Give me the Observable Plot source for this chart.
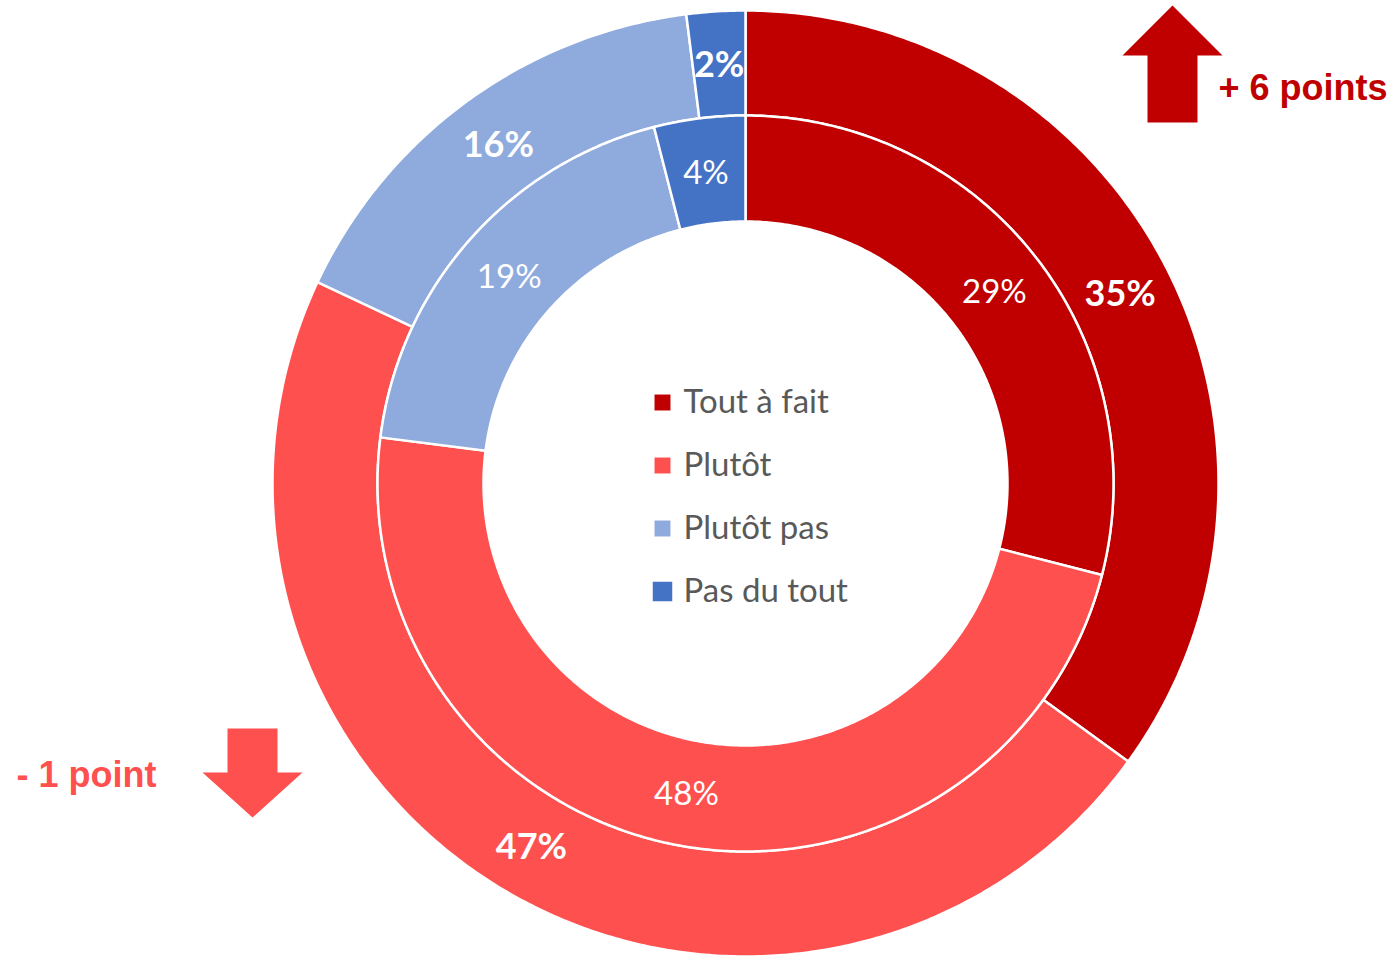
<!DOCTYPE html>
<html>
<head>
<meta charset="utf-8">
<script src="https://cdn.jsdelivr.net/npm/d3@7"></script>
<script src="https://cdn.jsdelivr.net/npm/@observablehq/plot@0.6"></script>
<style>
  html, body { margin: 0; padding: 0; background: #fff; }
  #chart { width: 1397px; height: 956px; }
</style>
</head>
<body>
<div id="chart"></div>
<script>
// ---- data ----
const categories = ["Tout à fait", "Plutôt", "Plutôt pas", "Pas du tout"];
const colors = ["#C00000", "#FF5050", "#8FAADC", "#4472C4"];
const outerValues = [35, 47, 16, 2];   // outer ring (current)
const innerValues = [29, 48, 19, 4];   // inner ring (previous)

// ---- geometry (layout) ----
const W = 1397, H = 956;
const CX = 745, CY = 483;
const rings = [
  {key: "outer", values: outerValues, r0: 368, r1: 473},
  {key: "inner", values: innerValues, r0: 262, r1: 368}
];
const rad = a => a * Math.PI / 180;
const pt = (r, a) => ({x: r * Math.sin(rad(a)), y: r * Math.cos(rad(a))});

const slicePts = [];
const labels = {outer: [], inner: []};
for (const ring of rings) {
  const total = d3.sum(ring.values);
  let cum = 0;
  ring.values.forEach((v, i) => {
    const a0 = cum / total * 360, a1 = (cum + v) / total * 360;
    cum += v;
    const id = ring.key + i;
    const n = Math.max(2, Math.ceil((a1 - a0) / 0.5) + 1);
    for (let k = 0; k < n; k++) {
      const a = a0 + (a1 - a0) * k / (n - 1);
      slicePts.push({id, color: colors[i], ...pt(ring.r1, a)});
    }
    for (let k = n - 1; k >= 0; k--) {
      const a = a0 + (a1 - a0) * k / (n - 1);
      slicePts.push({id, color: colors[i], ...pt(ring.r0, a)});
    }
    const m = pt((ring.r0 + ring.r1) / 2, (a0 + a1) / 2);
    labels[ring.key].push({...m, text: `${v}%`});
  });
}

// legend rows (in the hole)
const legend = categories.map((c, i) => ({
  label: c, color: colors[i], x: -83, tx: -62, y: 81 - i * 63, r: i === 3 ? 11 : 9
}));

// change arrows derived from the data
const arrowSpecs = [
  {i: 0, cx: 427, tail: 361, base: 428, tip: 478, tx: 473, ty: 395},
  {i: 1, cx: -493, tail: -245, base: -289, tip: -334, tx: -729, ty: -292}
];
const arrowPts = [];
const arrowText = [];
for (const s of arrowSpecs) {
  const delta = outerValues[s.i] - innerValues[s.i];
  const id = "arrow" + s.i, color = colors[s.i];
  const shape = [
    [s.cx - 25, s.tail], [s.cx - 25, s.base], [s.cx - 50, s.base], [s.cx, s.tip],
    [s.cx + 50, s.base], [s.cx + 25, s.base], [s.cx + 25, s.tail]
  ];
  for (const [x, y] of shape) arrowPts.push({id, color, x, y});
  const abs = Math.abs(delta);
  arrowText.push({x: s.tx, y: s.ty, color,
    text: `${delta >= 0 ? "+" : "-"} ${abs} point${abs > 1 ? "s" : ""}`});
}

const plot = Plot.plot({
  width: W, height: H,
  margin: 0,
  x: {domain: [-CX, W - CX], axis: null},
  y: {domain: [-(H - CY), CY], axis: null},
  r: {type: "identity"},
  color: {type: "identity"},
  style: {fontFamily: "Lato, 'Open Sans', sans-serif", background: "white"},
  marks: [
    Plot.line(slicePts, {x: "x", y: "y", z: "id", fill: "color", stroke: "white",
      strokeWidth: 2.5, strokeLinejoin: "round", curve: "linear-closed"}),
    Plot.text(labels.outer, {x: "x", y: "y", text: "text", fill: "white",
      fontSize: 36, fontWeight: "bold", fontFamily: "Lato", dy: 2}),
    Plot.text(labels.inner, {x: "x", y: "y", text: "text", fill: "white",
      fontSize: 33, fontWeight: "normal", fontFamily: "Lato", dy: 2}),
    Plot.dot(legend, {x: "x", y: "y", r: "r", symbol: "square", fill: "color", stroke: "none"}),
    Plot.text(legend, {x: "tx", y: "y", text: "label", textAnchor: "start",
      fill: "#595959", fontSize: 33, fontFamily: "Lato"}),
    Plot.line(arrowPts, {x: "x", y: "y", z: "id", fill: "color", stroke: "none", curve: "linear-closed"}),
    Plot.text(arrowText, {x: "x", y: "y", text: "text", fill: "color", textAnchor: "start",
      fontSize: 36, fontWeight: "bold", fontFamily: "'Liberation Sans', Arial, sans-serif"})
  ]
});
document.getElementById("chart").appendChild(plot);
</script>
</body>
</html>
